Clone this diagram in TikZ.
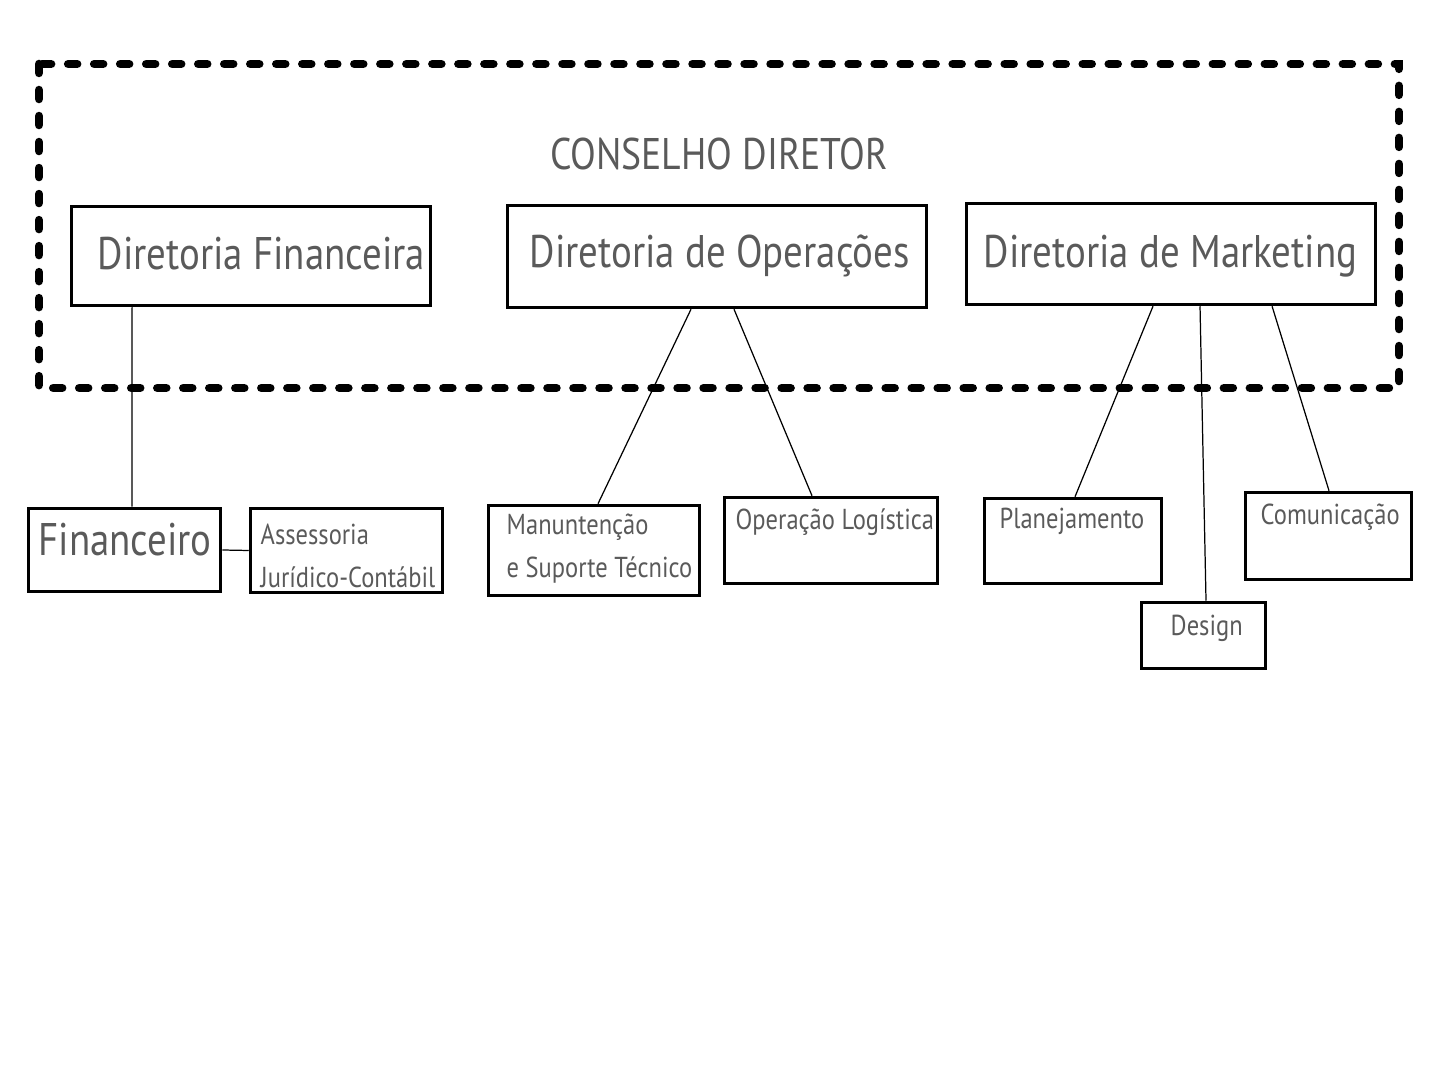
\documentclass[tikz,border=0pt]{standalone}
\usepackage{fontspec}
\setmainfont[FakeStretch=0.85]{PT Sans}
\usepackage{tikz}
\usetikzlibrary{calc}
\definecolor{textgray}{HTML}{5A5A5A}
\tikzset{
  orgbox/.style={draw=black, line width=1pt, inner sep=0pt, fill=white},
  link/.style={draw=black, line width=0.35pt},
  bigtxt/.style={text=textgray, inner sep=0pt, font=\fontsize{13}{16}\selectfont},
  smalltxt/.style={text=textgray, inner sep=0pt, font=\fontsize{8.2}{10}\selectfont},
  council/.style={draw=black, line width=0.085cm, line cap=round, dash pattern=on 0.09cm off 0.17cm}
}
\def\orgbox(#1)(#2,#3)(#4,#5){\node[orgbox, minimum width={(#4-#2)*0.01cm}, minimum height={(#5-#3)*0.01cm}] (#1) at ({(#2+#4)/2},{(#3+#5)/2}) {};}
\begin{document}
\begin{tikzpicture}[x=0.01cm, y=-0.01cm]
			%%%%% START %%%%%
			\useasboundingbox (0,0) rectangle (1440,1080);
			
			\draw[council] (39,64) rectangle (1399,388);
			\node[bigtxt, font=\fontsize{12.6}{15}\selectfont, anchor=base] (council) at (719,170) {CONSELHO DIRETOR};
			
			\orgbox(dirfin)(71.5,206.5)(430.5,305.5)
			\orgbox(dirop)(507.5,205.5)(926.5,307.5)
			\orgbox(dirmkt)(966.5,203.5)(1375.5,304.5)
			
			\orgbox(fin)(28.5,508.5)(220.5,591.5)
			\orgbox(assess)(250.5,508.5)(442.5,592.5)
			\orgbox(manut)(488.5,505.5)(699.5,595.5)
			\orgbox(oplog)(724.5,497.5)(937.5,583.5)
			\orgbox(plan)(984.5,498.5)(1161.5,583.5)
			\orgbox(comun)(1245.5,492.5)(1411.5,579.5)
			\orgbox(design)(1141.5,602.5)(1265.5,668.5)
			
			\node[bigtxt, anchor=base west] (tdirfin) at (97,270) {Diretoria Financeira};
			\node[bigtxt, anchor=base west] (tdirop) at (529,268) {Diretoria de Operações};
			\node[bigtxt, anchor=base west] (tdirmkt) at (983,268) {Diretoria de Marketing};
			\node[bigtxt, anchor=base west] (tfin) at (38,556) {Financeiro};
			
			\node[smalltxt, anchor=base west] (tassess) at (260,545) {Assessoria};
			\node[smalltxt, anchor=base west] (tjur) at (260,588) {Jurídico-Contábil};
			\node[smalltxt, anchor=base west] (tmanut) at (506,535) {Manuntenção};
			\node[smalltxt, anchor=base west] (tsup) at (506,578) {e Suporte Técnico};
			\node[smalltxt, anchor=base west] (toplog) at (735,530) {Operação Logística};
			\node[smalltxt, anchor=base west] (tplan) at (999,529) {Planejamento};
			\node[smalltxt, anchor=base west] (tcomun) at (1260,525) {Comunicação};
			\node[smalltxt, anchor=base west] (tdesign) at (1170,636) {Design};
			
			\draw[link] ([xshift=-1.19cm]dirfin.south) -- ([xshift=0.075cm]fin.north);
			\draw[link] (fin.east) -- (assess.west);
			\draw[link] ([xshift=-0.26cm]dirop.south) -- ([xshift=0.04cm]manut.north);
			\draw[link] ([xshift=0.17cm]dirop.south) -- ([xshift=-0.19cm]oplog.north);
			\draw[link] ([xshift=-0.18cm]dirmkt.south) -- ([xshift=0.02cm]plan.north);
			\draw[link] ([xshift=0.29cm]dirmkt.south) -- ([xshift=0.025cm]design.north);
			\draw[link] ([xshift=1.01cm]dirmkt.south) -- ([xshift=0.005cm]comun.north);
			
			%%%%% END %%%%%
\end{tikzpicture}
\end{document}
